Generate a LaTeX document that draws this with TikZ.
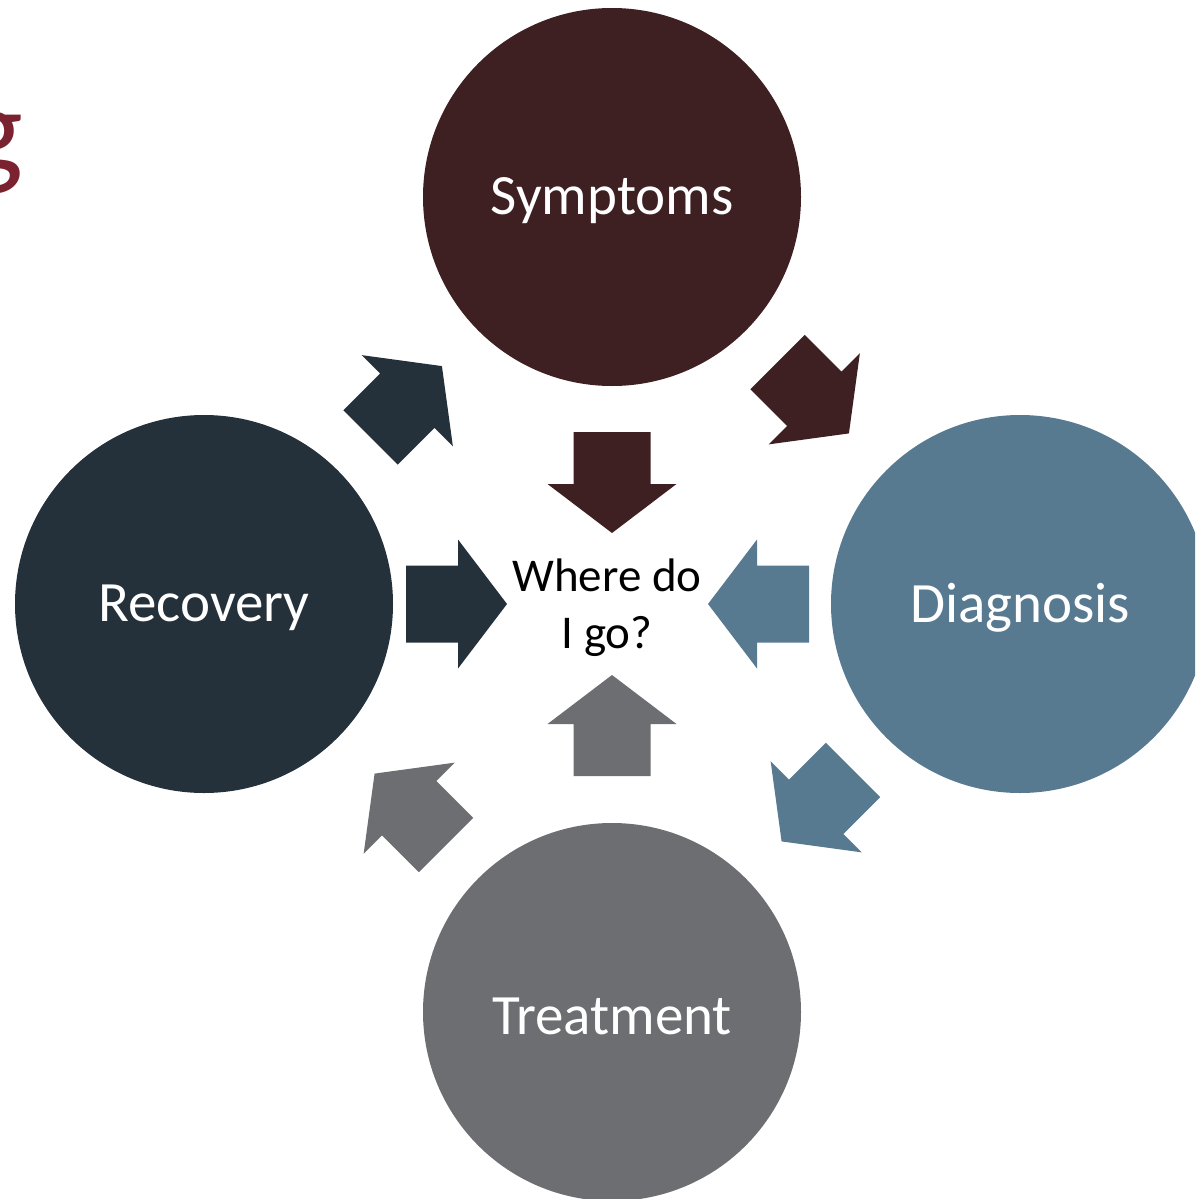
\documentclass[tikz,border=0pt]{standalone}
\usepackage{fontspec}
\setmainfont{Carlito}
\definecolor{cSym}{HTML}{3F2022}
\definecolor{cRec}{HTML}{24313B}
\definecolor{cDia}{HTML}{587A91}
\definecolor{cTre}{HTML}{6D6E72}
\definecolor{cTitle}{HTML}{7A2230}
\tikzset{
  stage/.style={circle, minimum size=378pt, inner sep=0pt},
  stagetext/.style={text=white, inner sep=0pt, font=\fontsize{57}{60}\selectfont},
  blockarrow/.pic={\fill (0,-38.5) -- (52,-38.5) -- (52,-64.5) -- (101,0) -- (52,64.5) -- (52,38.5) -- (0,38.5) -- cycle;}
}
\begin{document}
\begin{tikzpicture}[x=1pt,y=-1pt]
\useasboundingbox (0,0) rectangle (1195,1199);
\begin{scope}
\clip (0,0) rectangle (1195,1199);
\node[anchor=base east, text=cTitle, font=\fontsize{125}{130}\selectfont, inner sep=0pt] (title) at (24,172) {g};
\node[stage, fill=cSym] (sym) at (612,197) {};
\node[stage, fill=cRec] (rec) at (204,604) {};
\node[stage, fill=cDia] (dia) at (1020,604) {};
\node[stage, fill=cTre] (tre) at (612,1012) {};
\node[stagetext] (symt) at ([yshift=-4pt]sym.center) {Symptoms};
\node[stagetext] (rect) at ([yshift=-4pt]rec.center) {Recovery};
\node[stagetext] (diat) at ([yshift=-4pt]dia.center) {Diagnosis};
\node[stagetext] (tret) at ([yshift=-4pt]tre.center) {Treatment};
\end{scope}
\node[align=center, font=\fontsize{47}{57}\selectfont, inner sep=0pt] (center) at (607,608) {Where do\\I go?};
% central arrows
\pic[fill=cSym, shift={(612,432)}, rotate=-90] {blockarrow};
\pic[fill=cRec, shift={(406,604)}, rotate=0] {blockarrow};
\pic[fill=cDia, shift={(809,604)}, rotate=180] {blockarrow};
\pic[fill=cTre, shift={(612,776)}, rotate=90] {blockarrow};
% diagonal arrows
\pic[fill=cSym, shift={(777.5,362)}, rotate=-45] {blockarrow};
\pic[fill=cDia, shift={(853,770)}, rotate=-135] {blockarrow};
\pic[fill=cTre, shift={(446,845)}, rotate=135] {blockarrow};
\pic[fill=cRec, shift={(370.5,437.5)}, rotate=45] {blockarrow};
\end{tikzpicture}
\end{document}
